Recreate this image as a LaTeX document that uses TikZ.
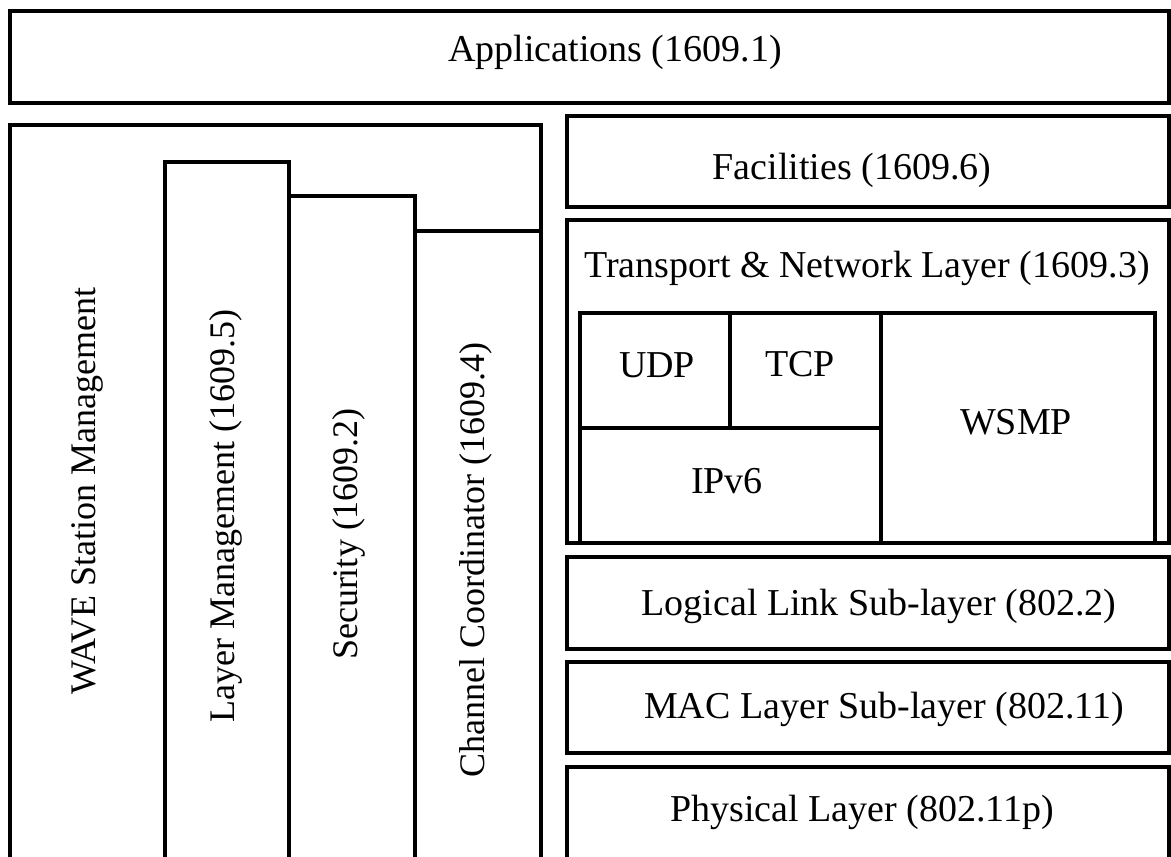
\documentclass[tikz,border=0pt]{standalone}
\usepackage{fontspec}
\setmainfont{Liberation Serif}
\tikzset{
    layer/.style={draw, line width=2pt},
    lbl/.style={anchor=base, inner sep=0pt, font=\fontsize{19}{23}\selectfont},
    vlbl/.style={lbl, rotate=90, font=\fontsize{18}{22}\selectfont}
}

\begin{document}
\begin{tikzpicture}[x=0.5pt, y=-0.5pt]
  \useasboundingbox (0,0) rectangle (1171,856);
  \clip (0,0) rectangle (1171,856);

  % top layer
  \draw[layer] (10,11) rectangle (1169,103);

  % management plane
  \draw[layer] (10,125) rectangle (541,880);
  \draw[layer] (165,162) rectangle (289,880);
  \draw[layer] (289,196) rectangle (415,880);
  \draw[layer] (415,231) rectangle (541,880);

  % data plane
  \draw[layer] (567,116) rectangle (1169,207);
  \draw[layer] (567,220) rectangle (1169,543);
  \draw[layer] (580,313) rectangle (1155,543);
  \draw[layer] (730,313) -- (730,428);
  \draw[layer] (580,428) -- (881,428);
  \draw[layer] (881,313) -- (881,543);
  \draw[layer] (567,557) rectangle (1169,649);
  \draw[layer] (567,662) rectangle (1169,753);
  \draw[layer] (567,767) rectangle (1169,880);

  \node (app) [lbl] at (615,62) {Applications (1609.1)};
  \node (fac) [lbl] at (852,179) {Facilities (1609.6)};
  \node (tnl) [lbl] at (867,277) {Transport \& Network Layer (1609.3)};
  \node (udp) [lbl] at (657,377) {UDP};
  \node (tcp) [lbl] at (800,376) {TCP};
  \node (wsmp) [lbl] at (1016,434) {WSMP};
  \node (ipv6) [lbl] at (727,493) {IPv6};
  \node (llc) [lbl] at (879,615) {Logical Link Sub-layer (802.2)};
  \node (mac) [lbl] at (884,718) {MAC Layer Sub-layer (802.11)};
  \node (phy) [lbl] at (862,821) {Physical Layer (802.11p)};

  \node (wsm) [vlbl] at (95,491) {WAVE Station Management};
  \node (lm) [vlbl] at (234,516) {Layer Management (1609.5)};
  \node (sec) [vlbl] at (357,534) {Security (1609.2)};
  \node (cc) [vlbl] at (484,560) {Channel Coordinator (1609.4)};

\end{tikzpicture}
\end{document}
